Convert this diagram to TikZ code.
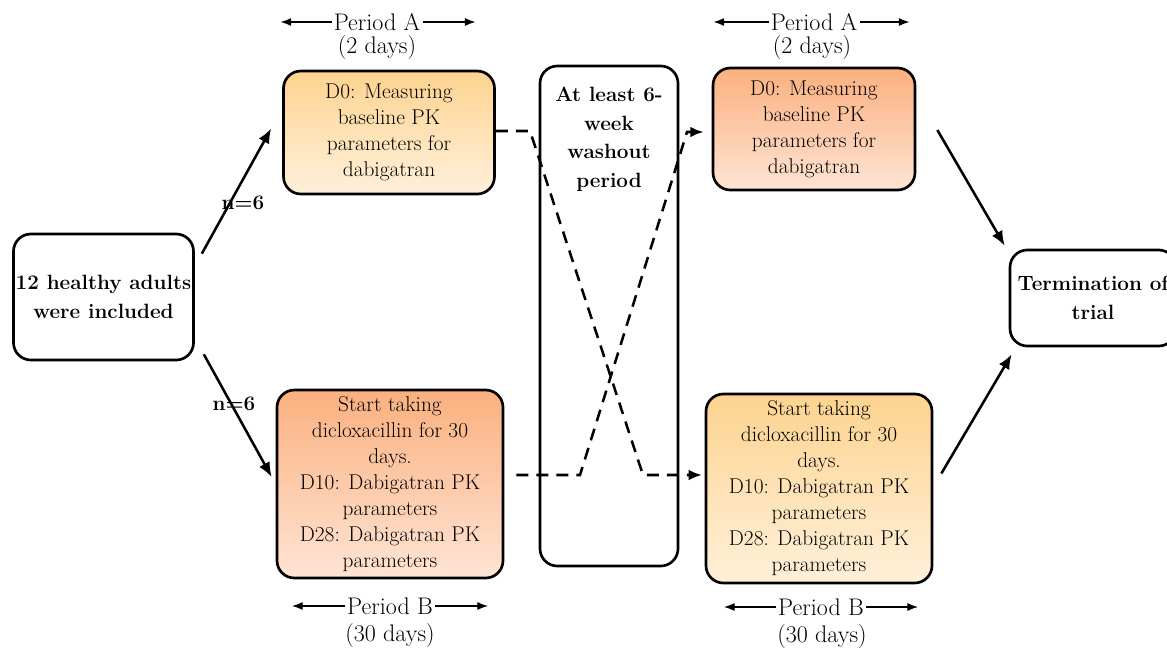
\documentclass[tikz,border=0pt]{standalone}
\usepackage{fontspec}
\usetikzlibrary{arrows.meta,shapes}
\definecolor{ylwtop}{HTML}{FDD38F}
\definecolor{ylwbot}{HTML}{FFF0DA}
\definecolor{orgtop}{HTML}{FAB07F}
\definecolor{orgbot}{HTML}{FFE4D4}

\begin{document}
\begin{tikzpicture}[x=0.75pt,y=-0.75pt]
                \tikzstyle{every node}+=[inner sep=1.5pt]
                \tikzstyle{box}=[draw=black, line width=2pt, rounded corners=13pt, align=center, font=\fontsize{16}{19.5}\selectfont]
                \tikzstyle{ylw}=[box, top color=ylwtop, bottom color=ylwbot]
                \tikzstyle{org}=[box, top color=orgtop, bottom color=orgbot]
                \tikzstyle{bold}=[font=\fontsize{15.5}{21.5}\selectfont\bfseries, align=center]
                \tikzstyle{arr}=[black, line width=1.9pt, -{Latex[length=11pt,width=9pt]}]
                \tikzstyle{dsh}=[black, line width=1.9pt, dash pattern=on 9pt off 6pt, -{Latex[length=10pt,width=8pt]}]
                \tikzstyle{prd}=[font=\fontsize{18}{21}\selectfont]
                \tikzstyle{parr}=[black, line width=0.9pt, -{Latex[length=8pt,width=6pt]}]
                \clip (0,0) rectangle (1167,650);
                \node [box, bold, minimum width=135pt, minimum height=94.5pt] (incl) at (103.5,297) {12 healthy adults\\were included};
                \node [ylw, minimum width=158.25pt, minimum height=92.25pt] (A1) at (389,132.5) {D0: Measuring\\baseline PK\\parameters for\\dabigatran};
                \node [org, minimum width=169.5pt, minimum height=141pt] (B1) at (390,484) {Start taking\\dicloxacillin for 30\\days.\\D10: Dabigatran PK\\parameters\\D28: Dabigatran PK\\parameters};
                \node [box, minimum width=103.5pt, minimum height=375pt] (wash) at (609,316) {};
                \node [bold, anchor=north] (washtxt) at ([yshift=-15pt]wash.north) {At least 6-\\week\\washout\\period};
                \node [org, minimum width=151.5pt, minimum height=91.5pt] (A2) at (814,129) {D0: Measuring\\baseline PK\\parameters for\\dabigatran};
                \node [ylw, minimum width=169.5pt, minimum height=141.75pt] (B2) at (819,488.5) {Start taking\\dicloxacillin for 30\\days.\\D10: Dabigatran PK\\parameters\\D28: Dabigatran PK\\parameters};
                \node [box, bold, minimum width=124.5pt, minimum height=72pt] (term) at (1093,298) {Termination of\\trial};
                \draw [arr] ([shift={(7,21)}]incl.north east) -- ([shift={(-11,-4)}]A1.west);
                \node [bold] (n1) at (243,203) {n=6};
                \draw [arr] ([shift={(9,-7)}]incl.south east) -- ([shift={(-4,-7)}]B1.west);
                \node [bold] (n2) at (234,404) {n=6};
                \draw [arr] ([shift={(21,1)}]A2.east) -- ([shift={(-4,-3)}]term.north west);
                \draw [arr] ([shift={(8,-15)}]B2.east) -- ([shift={(3,7)}]term.south west);
                \coordinate (d1) at (530,131);
                \coordinate (d2) at (643,475);
                \draw [dsh, shorten >=2pt] (A1.east |- d1) -- (d1) -- (d2) -- (d2 -| B2.west);
                \coordinate (d3) at (580,475);
                \coordinate (d4) at (687,132);
                \draw [dsh, shorten <=9pt, shorten >=6pt] (B1.east |- d3) -- (d3) -- (d4) -- (d4 -| A2.west);
                \node [prd] (pa1) at (377,22) {Period A};
                \draw [parr] (pa1.west) -- ++(-51,0);
                \draw [parr] (pa1.east) -- ++(53,0);
                \node [prd] (da1) at (377,48) {(2 days)};
                \node [prd] (pa2) at (814,22) {Period A};
                \draw [parr] (pa2.west) -- ++(-55,0);
                \draw [parr] (pa2.east) -- ++(50,0);
                \node [prd] (da2) at (812,48) {(2 days)};
                \node [prd] (pb1) at (390,606) {Period B};
                \draw [parr] (pb1.west) -- ++(-53,0);
                \draw [parr] (pb1.east) -- ++(53,0);
                \node [prd] (db1) at (390,636) {(30 days)};
                \node [prd] (pb2) at (821,607) {Period B};
                \draw [parr] (pb2.west) -- ++(-52,0);
                \draw [parr] (pb2.east) -- ++(52,0);
                \node [prd] (db2) at (822,637) {(30 days)};
\end{tikzpicture}
\end{document}
